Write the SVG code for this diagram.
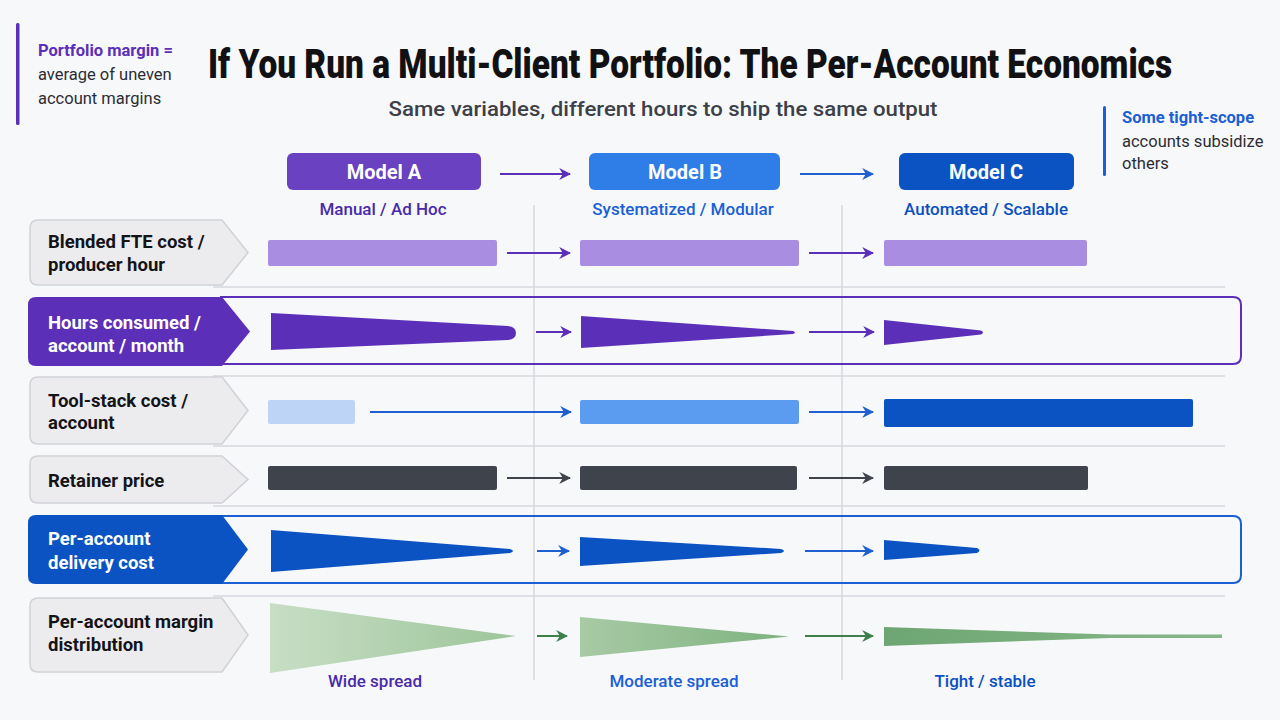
<svg xmlns="http://www.w3.org/2000/svg" width="1280" height="720" viewBox="0 0 1280 720">
<defs>
<style>
.title{font-family:Roboto,"Liberation Sans",sans-serif;font-weight:900;font-size:40px;fill:#111114}
.sub{font-family:Roboto,"Liberation Sans",sans-serif;font-weight:500;font-size:21px;fill:#3d4048}
.note{font-family:Roboto,"Liberation Sans",sans-serif;font-size:16.5px;fill:#2b2d33}
.noteb{font-weight:700}
.lbl{font-family:Roboto,"Liberation Sans",sans-serif;font-weight:700;font-size:18.5px;fill:#141418}
.lblw{fill:#ffffff}
.mt{font-family:Roboto,"Liberation Sans",sans-serif;font-weight:700;font-size:20px;fill:#ffffff;text-anchor:middle}
.ms{font-family:Roboto,"Liberation Sans",sans-serif;font-weight:500;font-size:17px;text-anchor:middle}
.lab{fill:#ececef;stroke:#d0d2d8;stroke-width:1.5}
.grid{stroke:#d6d9df;stroke-width:1.5}
.arr{fill:none;stroke-width:2}
</style>
<marker id="mPL" viewBox="0 0 10 10" refX="9" refY="5" markerWidth="12" markerHeight="12" markerUnits="userSpaceOnUse" orient="auto"><path d="M0,0 L10,5 L0,10 L3,5 z" fill="#5b2fb8"/></marker>
<marker id="mB" viewBox="0 0 10 10" refX="9" refY="5" markerWidth="12" markerHeight="12" markerUnits="userSpaceOnUse" orient="auto"><path d="M0,0 L10,5 L0,10 L3,5 z" fill="#1f5fd0"/></marker>
<marker id="mK" viewBox="0 0 10 10" refX="9" refY="5" markerWidth="12" markerHeight="12" markerUnits="userSpaceOnUse" orient="auto"><path d="M0,0 L10,5 L0,10 L3,5 z" fill="#3f434b"/></marker>
<marker id="mG" viewBox="0 0 10 10" refX="9" refY="5" markerWidth="12" markerHeight="12" markerUnits="userSpaceOnUse" orient="auto"><path d="M0,0 L10,5 L0,10 L3,5 z" fill="#3f7f4c"/></marker>
<linearGradient id="gA" x1="0" x2="1" y1="0" y2="0"><stop offset="0" stop-color="#c8dec5"/><stop offset="1" stop-color="#9cc599"/></linearGradient>
<linearGradient id="gB" x1="0" x2="1" y1="0" y2="0"><stop offset="0" stop-color="#a8caa5"/><stop offset="1" stop-color="#7db27e"/></linearGradient>
<linearGradient id="gC" x1="0" x2="1" y1="0" y2="0"><stop offset="0" stop-color="#6ea673"/><stop offset="1" stop-color="#86b887"/></linearGradient>
</defs>
<rect width="1280" height="720" fill="#f7f8fa"/>

<g id="note-left">
<rect x="16" y="23" width="3.5" height="102" rx="1.5" fill="#5b2fb8"/>
<text class="note" x="38" y="56"><tspan class="noteb" fill="#5b2fb8">Portfolio margin =</tspan></text>
<text class="note" x="38" y="80">average of uneven</text>
<text class="note" x="38" y="104">account margins</text>
</g>

<g id="title">
<text class="title" transform="translate(690,78) scale(0.74,1)" x="0" y="0" text-anchor="middle" textLength="1303" lengthAdjust="spacingAndGlyphs">If You Run a Multi-Client Portfolio: The Per-Account Economics</text>
<text class="sub" x="663" y="116" text-anchor="middle" textLength="549" lengthAdjust="spacingAndGlyphs">Same variables, different hours to ship the same output</text>
</g>

<g id="note-right">
<rect x="1103" y="106" width="3" height="70" rx="1.5" fill="#1a5fd6"/>
<text class="note" x="1122" y="123"><tspan class="noteb" fill="#1a5fd6">Some tight-scope</tspan></text>
<text class="note" x="1122" y="147">accounts subsidize</text>
<text class="note" x="1122" y="169">others</text>
</g>

<g id="grid">
<line class="grid" x1="534" y1="205" x2="534" y2="680"/>
<line class="grid" x1="842" y1="205" x2="842" y2="680"/>
<line class="grid" x1="213" y1="287" x2="1225" y2="287"/>
<line class="grid" x1="213" y1="376" x2="1225" y2="376"/>
<line class="grid" x1="213" y1="446" x2="1225" y2="446"/>
<line class="grid" x1="213" y1="506" x2="1225" y2="506"/>
<line class="grid" x1="213" y1="596" x2="1225" y2="596"/>
<path d="M220,297 H1233 Q1241,297 1241,305 V356 Q1241,364 1233,364 H220" fill="none" stroke="#5b2fb8" stroke-width="2"/>
<path d="M220,516 H1233 Q1241,516 1241,524 V575 Q1241,583 1233,583 H220" fill="none" stroke="#1a5fd6" stroke-width="2"/>
</g>

<g id="model-a">
<rect x="287" y="153" width="194" height="37" rx="6" fill="#6a41c0"/>
<text class="mt" x="384" y="179">Model A</text>
<text class="ms" x="383" y="215" fill="#4a2aa8">Manual / Ad Hoc</text>
</g>
<g id="model-b">
<rect x="589" y="153" width="191" height="37" rx="6" fill="#2f7de6"/>
<text class="mt" x="685" y="179">Model B</text>
<text class="ms" x="683" y="215" fill="#1a5fd6">Systematized / Modular</text>
</g>
<g id="model-c">
<rect x="899" y="153" width="175" height="37" rx="6" fill="#0b52c2"/>
<text class="mt" x="986" y="179">Model C</text>
<text class="ms" x="986" y="215" fill="#0b50c0">Automated / Scalable</text>
</g>

<g id="row-fte">
<path class="lab" d="M38,220 H222 L248,252.5 L222,285 H38 Q30,285 30,277 V228 Q30,220 38,220 Z"/>
<text class="lbl" x="48" y="248">Blended FTE cost /</text>
<text class="lbl" x="48" y="271">producer hour</text>
<rect x="268" y="240" width="229" height="26" rx="2" fill="#a88de0"/>
<rect x="580" y="240" width="219" height="26" rx="2" fill="#a88de0"/>
<rect x="884" y="240" width="203" height="26" rx="2" fill="#a88de0"/>
</g>

<g id="row-hours">
<path d="M36,297 H222 L250,331.5 L222,366 H36 Q28,366 28,358 V305 Q28,297 36,297 Z" fill="#5b2fb8"/>
<text class="lbl lblw" x="48" y="329">Hours consumed /</text>
<text class="lbl lblw" x="48" y="352">account / month</text>
<path d="M271,313 L508,326 Q516,327 516,333 Q516,339 508,340 L271,350 Z" fill="#5b2fb8"/>
<path d="M581,316 L793,331 Q797,332.5 793,334 L581,348 Z" fill="#5b2fb8"/>
<path d="M884,320 L981,330.5 Q985,332.5 981,334.5 L884,345 Z" fill="#5b2fb8"/>
</g>

<g id="row-tools">
<path class="lab" d="M38,377 H222 L248,410.5 L222,444 H38 Q30,444 30,436 V385 Q30,377 38,377 Z"/>
<text class="lbl" x="48" y="407">Tool-stack cost /</text>
<text class="lbl" x="48" y="429">account</text>
<rect x="268" y="400" width="87" height="24" rx="2" fill="#bdd4f6"/>
<rect x="580" y="400" width="219" height="24" rx="2" fill="#5b9cf0"/>
<rect x="884" y="399" width="309" height="28" rx="2" fill="#0b52c2"/>
</g>

<g id="row-retainer">
<path class="lab" d="M38,456 H222 L248,479.5 L222,503 H38 Q30,503 30,495 V464 Q30,456 38,456 Z"/>
<text class="lbl" x="48" y="487">Retainer price</text>
<rect x="268" y="466" width="229" height="24" rx="2" fill="#3f434b"/>
<rect x="580" y="466" width="217" height="24" rx="2" fill="#3f434b"/>
<rect x="884" y="466" width="204" height="24" rx="2" fill="#3f434b"/>
</g>

<g id="row-delivery">
<path d="M36,515 H222 L248,549.5 L222,584 H36 Q28,584 28,576 V523 Q28,515 36,515 Z" fill="#0b52c2"/>
<text class="lbl lblw" x="48" y="545">Per-account</text>
<text class="lbl lblw" x="48" y="569">delivery cost</text>
<path d="M271,530 L510,549 Q516,551 510,553 L271,572 Z" fill="#0b52c2"/>
<path d="M580,537 L781,549 Q787,551 781,553 L580,566 Z" fill="#0b52c2"/>
<path d="M884,540 L977,548 Q982,550.5 977,553 L884,560 Z" fill="#0b52c2"/>
</g>

<g id="row-margin">
<path class="lab" d="M38,598 H222 L248,635 L222,672 H38 Q30,672 30,664 V606 Q30,598 38,598 Z"/>
<text class="lbl" x="48" y="628">Per-account margin</text>
<text class="lbl" x="48" y="651">distribution</text>
<path d="M270,603 L516,636 L270,673 Z" fill="url(#gA)"/>
<path d="M580,617 L789,636.5 L580,657 Z" fill="url(#gB)"/>
<path d="M884,627 L1110,634.5 L1222,634.5 L1222,638 L1110,638 L884,646 Z" fill="url(#gC)"/>
<text class="ms" x="375" y="687" fill="#4a2aa8">Wide spread</text>
<text class="ms" x="674" y="687" fill="#1a5fd6">Moderate spread</text>
<text class="ms" x="985" y="687" fill="#0b50c0">Tight / stable</text>
</g>

<g id="connectors">
<line class="arr" x1="500" y1="174" x2="570" y2="174" stroke="#5b2fb8" marker-end="url(#mPL)"/>
<line class="arr" x1="800" y1="174" x2="873" y2="174" stroke="#1f5fd0" marker-end="url(#mB)"/>
<line class="arr" x1="507" y1="253" x2="570" y2="253" stroke="#5b2fb8" marker-end="url(#mPL)"/>
<line class="arr" x1="809" y1="253" x2="873" y2="253" stroke="#5b2fb8" marker-end="url(#mPL)"/>
<line class="arr" x1="536" y1="332" x2="571" y2="332" stroke="#5b2fb8" marker-end="url(#mPL)"/>
<line class="arr" x1="809" y1="332" x2="874" y2="332" stroke="#5b2fb8" marker-end="url(#mPL)"/>
<line class="arr" x1="370" y1="412" x2="571" y2="412" stroke="#1f5fd0" marker-end="url(#mB)"/>
<line class="arr" x1="809" y1="412" x2="873" y2="412" stroke="#1f5fd0" marker-end="url(#mB)"/>
<line class="arr" x1="507" y1="478" x2="570" y2="478" stroke="#3f434b" marker-end="url(#mK)"/>
<line class="arr" x1="809" y1="478" x2="873" y2="478" stroke="#3f434b" marker-end="url(#mK)"/>
<line class="arr" x1="537" y1="551" x2="569" y2="551" stroke="#1f5fd0" marker-end="url(#mB)"/>
<line class="arr" x1="805" y1="551" x2="873" y2="551" stroke="#1f5fd0" marker-end="url(#mB)"/>
<line class="arr" x1="537" y1="636" x2="567" y2="636" stroke="#3f7f4c" marker-end="url(#mG)"/>
<line class="arr" x1="805" y1="636" x2="873" y2="636" stroke="#3f7f4c" marker-end="url(#mG)"/>
</g>
</svg>
